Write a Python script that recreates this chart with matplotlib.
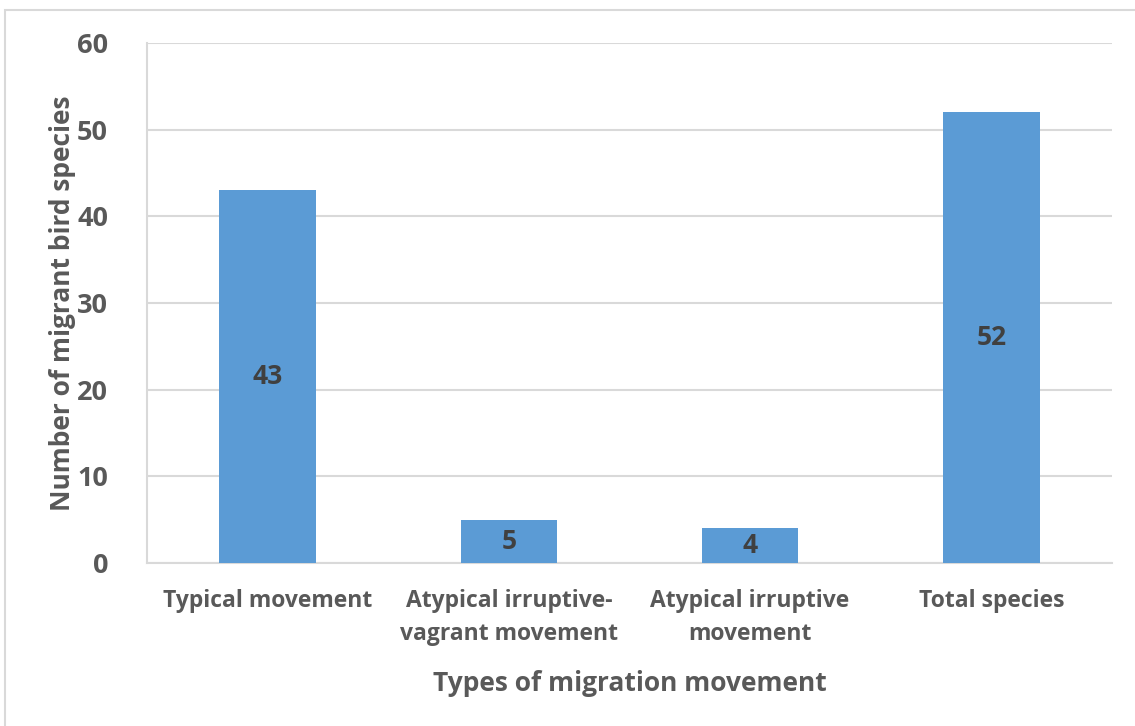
import matplotlib
matplotlib.use("Agg")
import matplotlib.pyplot as plt
from matplotlib.patches import Rectangle

categories = ["Typical movement", "Atypical irruptive-\nvagrant movement",
              "Atypical irruptive\nmovement", "Total species"]
counts = [43, 5, 4, 52]
yticks = [0, 10, 20, 30, 40, 50, 60]

plt.rcParams['font.family'] = ['Open Sans', 'DejaVu Sans']
text_col = "#595959"

fig = plt.figure(figsize=(11.35, 7.26), dpi=100)
ax = fig.add_axes([147 / 1135, 1 - 563 / 726, (1112 - 147) / 1135, (563 - 43) / 726])

# outer chart border
fig.patches.append(Rectangle((5 / 1135, -0.1), 1.2, 1.1 - 10 / 726, transform=fig.transFigure,
                             fill=False, edgecolor="#D9D9D9", linewidth=1.5, zorder=0))

x = range(len(categories))
bars = ax.bar(x, counts, width=0.4, color="#5B9BD5", zorder=3)
for b, v in zip(bars, counts):
    ax.text(b.get_x() + b.get_width() / 2, v / 2, str(v), ha="center", va="center",
            fontsize=19, fontweight="bold", color="#404040", zorder=4)

ax.set_xlim(-0.5, len(categories) - 0.5)
ax.set_ylim(0, 60)
ax.set_yticks(yticks)
ax.set_xticks(list(x))
ax.set_xticklabels(categories, fontsize=16.5, fontweight="bold", color=text_col, linespacing=1.5)
for t in ax.get_yticklabels():
    t.set_fontsize(19.5)
    t.set_fontweight("bold")
    t.set_color(text_col)
ax.tick_params(length=0)
ax.tick_params(axis="x", pad=19)
ax.tick_params(axis="y", pad=28)

ax.grid(axis="y", color="#D9D9D9", linewidth=1.5, zorder=0)
for s in ["top", "right"]:
    ax.spines[s].set_visible(False)
for s in ["left", "bottom"]:
    ax.spines[s].set_color("#D9D9D9")
    ax.spines[s].set_linewidth(1.5)

ax.set_ylabel("Number of migrant bird species", fontsize=19, fontweight="bold",
              color=text_col, labelpad=1)
ax.set_xlabel("Types of migration movement", fontsize=19, fontweight="bold",
              color=text_col, labelpad=17)

fig.savefig("out.png", dpi=100)
